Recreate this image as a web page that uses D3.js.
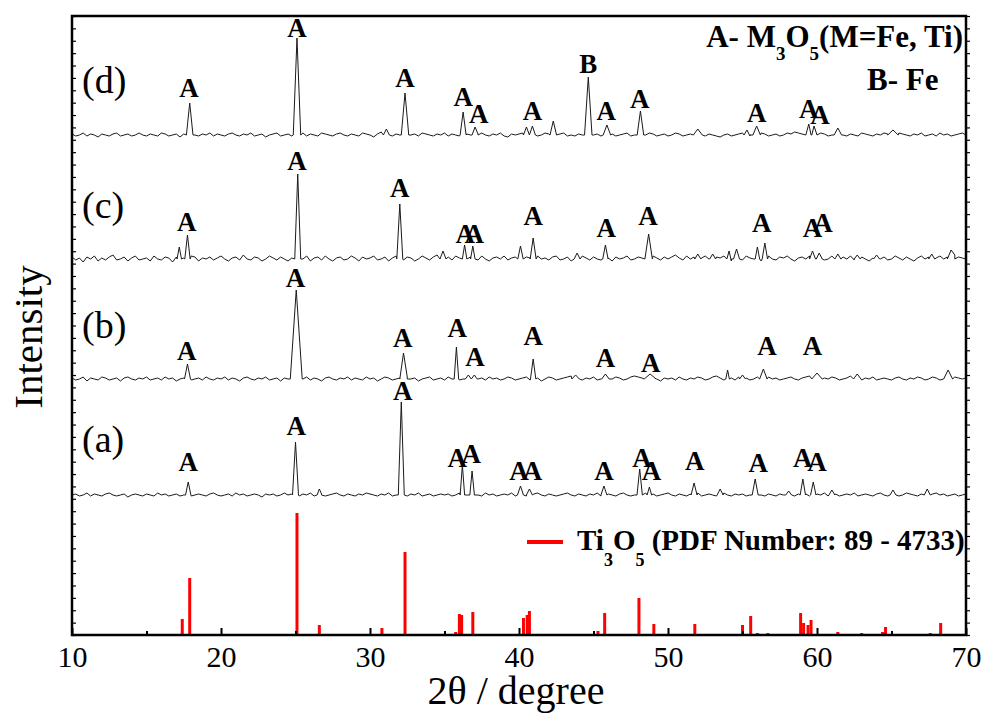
<!DOCTYPE html>
<html>
<head>
<meta charset="utf-8">
<script src="https://cdn.jsdelivr.net/npm/d3@7/dist/d3.min.js"></script>
<style>
body{margin:0;background:#fff;}
text{font-family:"Liberation Serif" !important;}
</style>
</head>
<body>
<div id="plot"></div>
<script>
// axis ticks (2theta, degree)
var xTicks = [10,20,30,40,50,60,70];
var xMinor = [15,25,35,45,55,65];

// vertical offset of each pattern (a.u.)
var offsetA = 140, offsetB = 256, offsetC = 376, offsetD = 500;

// background noise read every 0.25 deg from 10 to 70 (a.u. around the offset)
var noiseD = [
 1,-1,0,2,-1,1,0,-2,1,0,-1,1,2,-1,0,1,-1,0,2,0,
 -1,1,0,-1,2,1,-1,0,1,-2,1,2,-1,0,-1,1,0,2,-1,1,
 0,-1,1,2,0,-1,1,0,2,-1,0,1,-2,0,1,2,-1,0,1,-1,
 1,0,2,-1,1,0,-1,2,1,0,-1,1,2,0,-1,1,0,-1,2,1,
 0,-2,1,3,2,0,-1,1,0,2,-1,0,1,-1,2,1,0,-1,1,0,
 2,-1,1,0,-1,2,1,0,-1,1,2,0,-1,1,0,2,-1,-2,1,0,
 1,2,-1,0,1,-1,0,2,1,-1,0,1,2,-1,0,-1,1,0,-1,1,
 0,1,-1,2,0,1,-1,0,1,2,-1,0,1,-1,0,2,1,-1,0,1,
 -1,0,2,1,-1,0,1,3,1,0,-1,1,0,-1,-2,0,1,-1,0,1,
 2,0,-1,1,0,2,1,-1,0,1,-1,0,2,1,3,2,1,0,-1,1,
 0,2,1,-1,0,1,2,0,-1,1,0,-1,2,1,0,-1,1,0,2,1,
 2,3,2,1,0,-1,1,0,2,-1,0,1,-1,2,0,1,-1,0,1,2,
 0];
var noiseC = [
 2,-1,1,-3,2,0,3,-2,1,-1,2,4,-1,0,2,-2,1,3,-1,0,
 1,-2,3,0,-1,2,1,-3,2,0,1,-1,3,2,-2,1,0,2,-1,1,
 3,0,-2,1,2,-1,4,0,-1,2,1,-2,0,3,1,-1,2,0,-2,1,
 -1,2,0,3,-2,1,2,-1,3,0,-2,1,2,-1,0,3,1,-2,2,0,
 1,3,-1,0,2,-2,1,3,0,-1,2,1,-2,0,3,1,-1,2,4,1,
 0,2,-1,3,1,-2,0,2,1,-1,3,0,-2,1,2,0,3,-1,1,2,
 -1,0,2,1,-2,3,0,1,-1,2,3,-1,0,2,-2,1,0,3,1,-1,
 2,0,-1,3,1,-2,2,0,1,3,-1,0,2,1,-2,0,3,1,-1,2,
 0,2,4,1,-1,3,0,2,-2,1,3,0,-1,2,1,3,0,-2,1,2,
 -1,3,1,0,2,-2,1,3,0,-1,2,1,3,0,-2,1,2,0,3,-1,
 1,2,-1,0,3,1,-2,2,0,3,-1,1,2,0,-2,1,3,0,2,-1,
 0,3,1,-1,2,0,-2,1,3,0,2,-1,1,3,0,2,-1,4,2,1,
 0];
var noiseB = [
 1,-1,0,2,-2,1,0,-1,2,1,-1,0,1,-2,1,2,0,-1,1,0,
 2,-1,0,1,-1,2,0,1,-2,0,1,2,-1,0,1,-1,2,0,-1,1,
 0,2,-1,1,0,-2,1,2,0,-1,1,0,2,-1,0,1,-2,1,0,2,
 1,-1,0,2,-1,1,0,-2,1,2,0,-1,1,0,2,-1,1,0,-1,2,
 0,1,-2,0,2,1,-1,0,1,-1,2,0,1,-2,0,1,2,-1,0,1,
 -1,2,0,1,-1,0,2,1,-2,0,1,-1,2,0,1,-1,0,2,1,-1,
 0,1,2,-1,0,1,-2,0,2,1,-1,0,1,2,3,1,0,-1,1,0,
 2,-1,0,1,-1,0,2,1,-1,0,2,3,2,1,0,-1,1,0,-2,1,
 0,1,-1,2,0,-1,1,0,2,1,-1,0,2,3,1,-1,0,1,-1,2,
 0,1,-1,0,2,1,-1,2,0,1,-1,0,1,2,0,-1,1,2,3,1,
 0,-1,1,0,2,1,-1,0,1,3,2,0,-1,1,0,2,-1,0,1,0,
 -1,1,2,0,-1,1,0,2,1,-1,0,2,1,-1,0,1,3,2,1,0,
 1];
var noiseA = [
 0,1,-1,0,2,-1,1,0,-1,1,2,0,-1,0,1,-2,0,1,0,-1,
 1,0,-1,2,0,1,-1,0,1,-1,0,2,-1,0,1,0,-1,1,2,0,
 -1,0,1,-1,2,0,1,-1,0,1,0,-2,1,0,1,-1,0,2,0,1,
 0,-1,1,0,2,-1,0,1,-1,0,1,2,0,-1,1,0,-1,1,0,2,
 1,0,-1,1,0,2,-1,0,1,0,-1,1,0,2,-1,0,1,-1,0,1,
 0,1,-1,0,2,1,0,-1,1,0,-1,2,0,1,-1,0,1,0,2,-1,
 0,1,-1,0,1,2,0,-1,1,0,-1,0,1,2,0,-1,1,0,-1,1,
 0,2,-1,0,1,0,-1,1,2,0,-1,0,1,-1,2,0,1,-1,0,1,
 2,0,-1,1,0,-1,1,0,2,-1,0,1,0,-1,1,2,0,-1,1,0,
 1,-1,0,1,2,0,-1,1,0,-1,1,0,2,0,-1,1,0,1,-1,0,
 1,0,2,-1,0,1,-1,0,1,0,2,-1,0,1,0,-1,1,2,0,-1,
 0,1,-1,0,2,1,0,-1,1,0,-1,1,2,0,1,-1,0,1,-1,0,
 1];

// peaks: [2theta, height, half width]
var peaksD = [[17.9,32,0.22],[25.1,97,0.25],[31.1,6,0.2],[32.35,42,0.25],[36.25,23,0.2],[37.05,8,0.2],
 [40.5,8,0.2],[40.9,9,0.2],[42.3,14,0.22],[44.65,58,0.25],[45.9,10,0.25],[48.15,24,0.22],[52.0,6,0.3],
 [55.3,5,0.2],[55.95,9,0.25],[59.45,11,0.2],[59.8,9,0.2],[61.4,7,0.25],[65.1,5,0.35]];
var peaksC = [[17.2,12,0.15],[17.75,24,0.18],[25.15,85,0.2],[32.0,55,0.2],[34.9,8,0.2],[36.35,14,0.15],
 [36.9,13,0.15],[40.1,13,0.18],[40.95,21,0.2],[43.9,6,0.2],[45.8,14,0.18],[48.7,25,0.25],[52.0,5,0.2],
 [53.0,5,0.2],[54.1,8,0.15],[54.6,10,0.2],[56.0,12,0.15],[56.5,16,0.18],[59.7,8,0.2],[60.15,6,0.2],
 [61.4,5,0.2],[62.7,4,0.2],[64.0,4,0.2],[67.7,5,0.2],[69.0,9,0.25]];
var peaksB = [[17.75,15,0.2],[25.05,89,0.4],[32.25,26,0.25],[35.8,32,0.15],[36.6,4,0.2],[37.0,4,0.2],
 [40.95,20,0.18],[43.8,4,0.25],[45.8,5,0.25],[48.8,5,0.4],[54.0,9,0.12],[55.0,4,0.2],[56.4,10,0.25],
 [60.0,6,0.35],[62.7,5,0.25],[68.8,9,0.3]];
var peaksA = [[17.8,13,0.18],[25.0,53,0.2],[26.6,6,0.15],[32.1,93,0.2],[36.2,30,0.15],[36.85,24,0.15],
 [40.1,9,0.2],[40.7,6,0.2],[45.7,9,0.2],[48.1,26,0.18],[48.75,8,0.15],[51.75,12,0.2],[53.5,6,0.2],
 [55.85,16,0.2],[58.1,4,0.2],[59.05,16,0.18],[59.75,13,0.18],[61.0,5,0.2],[65.1,5,0.2],[67.4,6,0.2]];

// phase labels: [text, 2theta, height above the pattern]
var labelsD = [["A",17.85,38],["A",25.1,98],["A",32.35,48],["A",36.25,29],["A",37.3,12],["A",40.9,15],
 ["B",44.65,62],["A",45.85,15],["A",48.1,27],["A",55.95,13],["A",59.45,17],["A",60.2,11]];
var labelsC = [["A",17.7,28],["A",25.1,89],["A",32.0,62],["A",36.4,16],["A",37.0,16],["A",40.95,34],
 ["A",45.85,22],["A",48.65,34],["A",56.3,27],["A",59.7,22],["A",60.4,27]];
var labelsB = [["A",17.7,19],["A",25.0,92],["A",32.2,32],["A",35.85,42],["A",37.05,13],["A",40.95,34],
 ["A",45.8,12],["A",48.85,7],["A",56.65,24],["A",59.7,24]];
var labelsA = [["A",17.8,24],["A",25.05,60],["A",32.2,95],["A",35.85,28],["A",36.8,32],["A",40.0,15],
 ["A",40.9,15],["A",45.7,15],["A",48.25,28],["A",48.9,15],["A",51.8,25],["A",56.05,23],["A",59.05,28],["A",60.0,24]];

// Ti3O5 reference card (PDF 89-4733): positions and intensities
var stickPos = [17.4,17.9,25.1,26.6,30.8,32.35,35.75,36.0,36.15,36.9,40.3,40.55,40.7,45.3,45.75,48.05,49.05,
 51.8,55.0,55.55,56.0,56.7,58.9,59.1,59.4,59.6,61.4,63.0,64.4,64.6,67.6,68.3];
var stickInt = [16,57,122,10,7,83,3,21,20,23,17,20,24,4,22,37,11,
 11,10,19,2,2,22,12,10,15,3,2,3,8,2,12];

var serifFont = 'Liberation Serif';

var W = 983, H = 722;
var margin = {t:16, r:17, b:87, l:72};
var width = W-margin.l-margin.r, height = H-margin.t-margin.b;

var svg = d3.select('#plot').append('svg')
	.attr('width',W).attr('height',H)
	.attr('font-family',serifFont);
var plot = svg.append('g')
	.attr('transform','translate('+margin.l+','+margin.t+')');

var x = d3.scaleLinear().domain([10,70]).range([0,width]);
var y = d3.scaleLinear().domain([0,619]).range([height,0]);

//build a pattern from noise points and peak points
function buildTrace(noise, peaks, offset){
	var pts = [];
	noise.forEach(function(v,i){
		var t = 10+i*0.25;
		var inside = peaks.some(function(p){ return t>p[0]-p[2] && t<p[0]+p[2]; });
		if(!inside) pts.push([t, offset+v]);
	});
	peaks.forEach(function(p){
		pts.push([p[0]-p[2], offset]);
		pts.push([p[0], offset+p[1]]);
		pts.push([p[0]+p[2], offset]);
	});
	pts.sort(function(a,b){return a[0]-b[0];});
	return pts;
}

var traceLine = d3.line().x(function(d){return x(d[0]);}).y(function(d){return y(d[1]);});

var traces = [
	{noise:noiseD, peaks:peaksD, off:offsetD, labels:labelsD, name:'(d)', ny:93},
	{noise:noiseC, peaks:peaksC, off:offsetC, labels:labelsC, name:'(c)', ny:218},
	{noise:noiseB, peaks:peaksB, off:offsetB, labels:labelsB, name:'(b)', ny:338},
	{noise:noiseA, peaks:peaksA, off:offsetA, labels:labelsA, name:'(a)', ny:452}
];

traces.forEach(function(tr){
	plot.append('path')
		.datum(buildTrace(tr.noise, tr.peaks, tr.off))
		.attr('d',traceLine)
		.attr('fill','none')
		.attr('stroke','#1a1a1a')
		.attr('stroke-width',1)
		.attr('stroke-linejoin','round');

	plot.selectAll(null).data(tr.labels).enter()
		.append('text')
		.attr('x',function(d){return x(d[1]);})
		.attr('y',function(d){return y(tr.off+d[2]);})
		.attr('text-anchor','middle')
		.attr('font-size',27)
		.attr('font-weight','bold')
		.text(function(d){return d[0];});

	svg.append('text')
		.attr('x',82).attr('y',tr.ny)
		.attr('font-size',38)
		.text(tr.name);
});

// red sticks
plot.selectAll('.stick').data(stickPos).enter()
	.append('line')
	.attr('class','stick')
	.attr('x1',function(d){return x(d);})
	.attr('x2',function(d){return x(d);})
	.attr('y1',y(0))
	.attr('y2',function(d,i){return y(stickInt[i]);})
	.attr('stroke','#ff0000')
	.attr('stroke-width',3);

// axes
var yTicks = d3.range(0,620,619/50);
plot.append('g').attr('transform','translate(0,'+height+')')
	.call(d3.axisBottom(x).tickValues(xTicks).tickSize(-7).tickPadding(11).tickFormat(d3.format('d')))
	.call(function(g){
		g.attr('font-family',serifFont).attr('font-size',30);
		g.select('.domain').remove();
		g.selectAll('line').attr('stroke','#000').attr('stroke-width',2);
	});
plot.append('g').attr('transform','translate(0,'+height+')')
	.call(d3.axisBottom(x).tickValues(xMinor).tickSize(-4).tickFormat(''))
	.call(function(g){
		g.select('.domain').remove();
		g.selectAll('line').attr('stroke','#000').attr('stroke-width',2);
	});
plot.append('g')
	.call(d3.axisLeft(y).tickValues(yTicks).tickSize(-4).tickFormat(''))
	.call(function(g){
		g.select('.domain').remove();
		g.selectAll('line').attr('stroke','#000').attr('stroke-width',1.2);
	});
plot.append('g').attr('transform','translate('+width+',0)')
	.call(d3.axisRight(y).tickValues(yTicks).tickSize(4).tickFormat(''))
	.call(function(g){
		g.select('.domain').remove();
		g.selectAll('line').attr('stroke','#000').attr('stroke-width',1.2);
	});

plot.append('rect')
	.attr('width',width).attr('height',height)
	.attr('fill','none').attr('stroke','#000').attr('stroke-width',2.5);

// axis titles
svg.append('text')
	.attr('x',margin.l+width/2-3).attr('y',704)
	.attr('text-anchor','middle')
	.attr('font-size',40)
	.text('2\u03b8 / degree');
svg.append('text')
	.attr('transform','translate(42,337) rotate(-90)')
	.attr('text-anchor','middle')
	.attr('font-size',41)
	.text('Intensity');

// phase legend
var leg1 = svg.append('text')
	.attr('x',963).attr('y',47)
	.attr('text-anchor','end')
	.attr('font-size',31).attr('font-weight','bold');
leg1.append('tspan').text('A- M');
leg1.append('tspan').attr('dy',13).attr('font-size',19).text('3');
leg1.append('tspan').attr('dy',-13).text('O');
leg1.append('tspan').attr('dy',13).attr('font-size',19).text('5');
leg1.append('tspan').attr('dy',-13).text('(M=Fe, Ti)');

svg.append('text')
	.attr('x',867).attr('y',90)
	.attr('font-size',31).attr('font-weight','bold')
	.text('B- Fe');

// stick legend
svg.append('line')
	.attr('x1',527).attr('x2',563).attr('y1',542).attr('y2',542)
	.attr('stroke','#ff0000').attr('stroke-width',4);
var leg2 = svg.append('text')
	.attr('x',577).attr('y',550)
	.attr('font-size',29).attr('font-weight','bold');
leg2.append('tspan').text('Ti');
leg2.append('tspan').attr('dy',16).attr('font-size',18).text('3');
leg2.append('tspan').attr('dy',-16).text('O');
leg2.append('tspan').attr('dy',16).attr('font-size',18).text('5');
leg2.append('tspan').attr('dy',-16).text(' (PDF Number: 89 - 4733)');
</script>
</body>
</html>
